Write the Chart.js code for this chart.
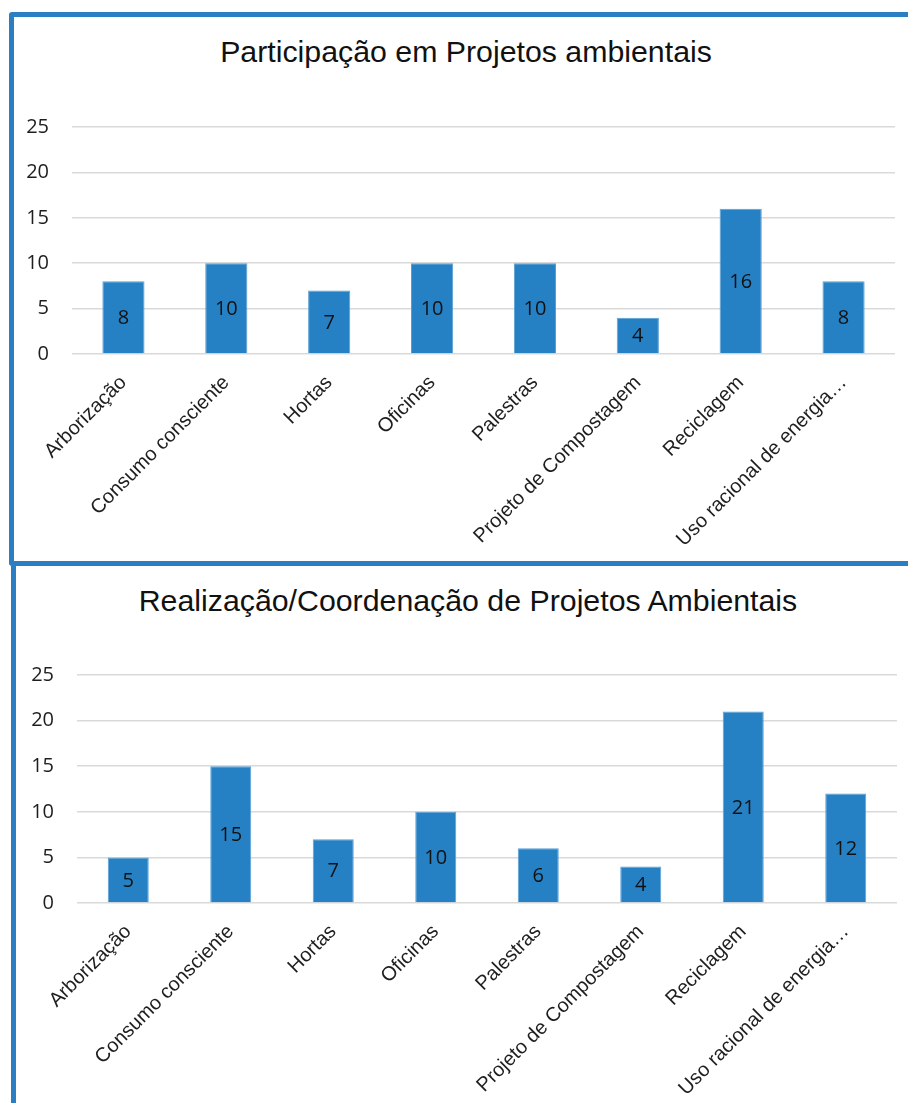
<!DOCTYPE html>
<html>
<head>
<meta charset="utf-8">
<script src="https://cdn.jsdelivr.net/npm/chart.js@4"></script>
<style>
    html, body { margin: 0; padding: 0; background: #fff; overflow: hidden; }
    body { width: 908px; height: 1103px; position: relative; }
    .box { position: absolute; border-color: #2a7ec1; border-style: solid; box-sizing: border-box; }
    #boxTop { left: 9px; top: 12px; width: 920px; height: 554px; border-width: 5px; border-radius: 3px; }
    #boxBottom { left: 11px; top: 566px; width: 920px; height: 560px; border-width: 0 0 0 5px; }
    canvas { position: absolute; }
    #chartTop { left: 14px; top: 17px; }
    #chartBottom { left: 16px; top: 566px; }
    .title {
        position: absolute; left: 0; height: 36px; line-height: 36px;
        text-align: center; white-space: nowrap;
        font-family: "Liberation Sans", Arial, sans-serif; font-size: 30.3px; color: #111;
    }
    #titleTop { top: 34px; width: 932px; }
    #titleBottom { top: 583px; width: 936px; }
</style>
</head>
<body>
<div class="box" id="boxTop"></div>
<div class="box" id="boxBottom"></div>
<div class="title" id="titleTop">Participação em Projetos ambientais</div>
<div class="title" id="titleBottom">Realização/Coordenação de Projetos Ambientais</div>
<canvas id="chartTop" width="894" height="543"></canvas>
<canvas id="chartBottom" width="892" height="537"></canvas>
<script>
const categories = ['Arborização', 'Consumo consciente', 'Hortas', 'Oficinas', 'Palestras',
    'Projeto de Compostagem', 'Reciclagem', 'Uso racional de energia…'];
const participacao = [8, 10, 7, 10, 10, 4, 16, 8];
const realizacao = [5, 15, 7, 10, 6, 4, 21, 12];
const yTicks = [0, 5, 10, 15, 20, 25];

const barColor = '#2681c4';
const numberFont = { family: '"Open Sans", sans-serif', size: 20 };

// value written in the middle of each bar
const barValues = {
    id: 'barValues',
    afterDatasetsDraw(chart) {
        const ctx = chart.ctx;
        const meta = chart.getDatasetMeta(0);
        const values = chart.data.datasets[0].data;
        ctx.save();
        ctx.font = numberFont.size + 'px ' + numberFont.family;
        ctx.fillStyle = '#111';
        ctx.textAlign = 'center';
        ctx.textBaseline = 'middle';
        meta.data.forEach((bar, i) => {
            ctx.fillText(String(values[i]), bar.x, (bar.y + bar.base) / 2 + 1);
        });
        ctx.restore();
    }
};

function makeChart(canvas, values, opts) {
    return new Chart(canvas, {
        type: 'bar',
        data: {
            labels: categories,
            datasets: [{
                data: values,
                backgroundColor: barColor,
                borderColor: '#5a9fd4',
                borderWidth: 1,
                barPercentage: opts.barPct,
                categoryPercentage: 1
            }]
        },
        plugins: [barValues],
        options: {
            responsive: false,
            animation: false,
            events: [],
            // the title sits above the canvas as page text
            layout: { padding: { left: 0, right: opts.right, top: opts.top, bottom: 0 } },
            plugins: {
                legend: { display: false },
                tooltip: { enabled: false },
                title: { display: false }
            },
            scales: {
                x: {
                    grid: { display: false },
                    border: { display: false },
                    ticks: {
                        color: '#1e1e1e',
                        font: { family: '"Liberation Sans", Arial, sans-serif', size: 20 },
                        minRotation: 45,
                        maxRotation: 45,
                        autoSkip: false,
                        padding: 9
                    },
                    afterFit(scale) { scale.height = opts.xHeight; }
                },
                y: {
                    min: 0,
                    max: 25,
                    afterBuildTicks(scale) { scale.ticks = yTicks.map(v => ({ value: v })); },
                    grid: { color: '#d9d9d9', lineWidth: 1.5, drawTicks: false },
                    border: { display: false },
                    ticks: {
                        color: '#1e1e1e',
                        font: numberFont,
                        padding: 23
                    },
                    afterFit(scale) { scale.width = opts.yWidth; }
                }
            }
        }
    });
}

makeChart(document.getElementById('chartTop'), participacao,
    { barPct: 0.41, right: 13, top: 110, xHeight: 206, yWidth: 58 });

makeChart(document.getElementById('chartBottom'), realizacao,
    { barPct: 0.40, right: 11, top: 109, xHeight: 200, yWidth: 61 });
</script>
</body>
</html>
